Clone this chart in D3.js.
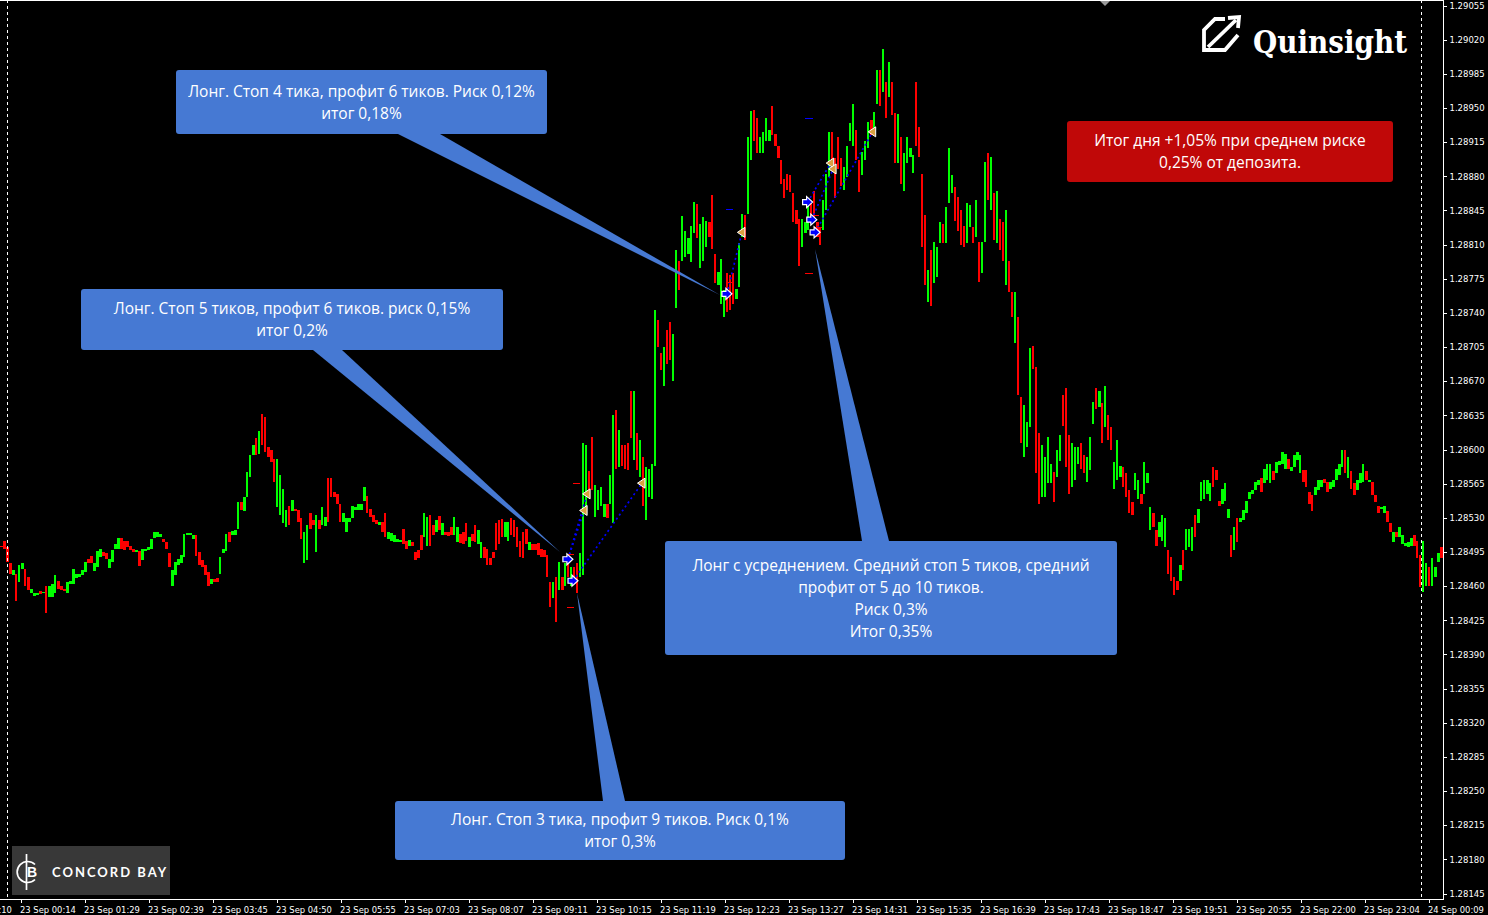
<!DOCTYPE html>
<html><head><meta charset="utf-8">
<script src="https://cdn.jsdelivr.net/npm/d3@7/dist/d3.min.js"></script>
<style>html,body{margin:0;padding:0;background:#000;overflow:hidden}svg{display:block}</style>
</head><body><svg id="c" width="1488" height="915"></svg>
<script>
// Prices are stored in points above 1.28000. Each group holds every third M1 bar.
const highsA=[501,506,500,483,476,472,481,483,477,469,457,452,452,454,453,460,460,462,471,465,460,457,464,465,477,472,472,476,484,487,490,483,495,498,494,493,487,496,503,509,509,506,506,501,498,496,495,498,498,500,508,515,515,513,508,505,493,476,484,487,491,513,514,514,512,512,494,486,481,474,467,467,468,489,498,513,515,516,517,546,546,551,576,594,604,611,618,636,633,602,599,590,590,573,559,537,542,548,539,537,529,515,522,534,527,532,527,541,530,570,570,556,554,544,534,529,529,542,541,544,544];
const lowsA=[500,498,484,472,471,444,464,477,460,455,452,449,450,451,452,432,448,448,452,457,455,454,452,462,462,468,469,471,474,483,483,475,479,489,490,487,478,484,498,498,498,496,500,496,494,494,480,486,495,496,498,509,510,510,505,498,479,460,471,481,483,489,512,512,508,490,481,479,471,460,462,464,464,472,493,495,505,512,512,518,537,536,551,571,594,594,595,604,597,592,587,566,541,532,524,520,522,536,536,525,508,483,486,518,522,494,518,522,521,525,551,551,544,525,525,515,525,529,537,538,538];
const dirsA="rrrrgrggrrgggrgrgggrrrgggggggrrgggrrggggrrrrrgrgggggggrrrggggggggrrrrrgrrgggrgggrggggrgrrrrrggggrgrrrggrrgrggrrrrrggggggg";
const highsB=[561,552,539,532,527,525,525,534,515,514,512,508,507,518,506,507,505,494,496,512,534,530,532,522,527,531,524,515,515,520,530,520,513,515,524,510,513,522,517,505,500,498,488,494,524,527,528,525,525,529,527,520,506,515,518,505,503,503,504,498,496,491,464,464,469,484,469,483,491,479,479,483,493,606,604,577,612,563,558,561,544,544,573,635,640,619,604,604,606,659,659,616,609,592,582,580,585];
const lowsB=[547,534,530,525,523,522,515,510,508,506,505,505,505,503,498,501,501,486,488,496,510,501,501,512,515,517,512,512,511,512,512,505,504,503,506,500,506,505,503,488,488,481,481,488,496,503,510,510,506,512,510,500,489,488,503,496,496,496,491,489,489,469,438,447,423,455,455,460,469,460,462,452,469,471,534,551,558,530,537,542,530,529,544,524,580,582,583,580,578,611,589,578,571,542,527,551,549];
const dirsB="grrrrgrrgggggrrgrrrrggrrgrgrrrggrrrgrrggrrrrrrrggrrrrrrgrrrrrrrgrgrgrgrrgggrrggggrggrgrrrrgrgrg";
const highsC=[742,732,698,705,722,730,718,804,793,839,823,816,829,853,851,831,838,834,833,860,800,781,795,763,780,778,780,764,811,841,840,920,946,947,939,920,925,939,927,952,923,911,896,877,882,881,862,845,836,836,833,850,853,864,833,826,855,882,925,925,898,920,898,889,910,934,954,927,896,904,916,935,937,945];
const lowsC=[583,705,681,665,687,691,670,744,763,793,797,800,792,821,816,785,793,807,817,805,770,768,749,735,740,742,749,754,766,817,814,841,896,916,903,903,903,916,916,922,910,898,872,857,865,863,833,831,788,807,821,824,836,833,817,809,824,845,879,886,857,887,870,865,879,916,910,896,863,881,896,908,922,925];
const dirsC="grrgrrggrgggggrgggrrrgggrrrgggrggrrggggrrrrrrrrrrgggrrrrgggrrrrggggrrgggrg";
const highsD=[988,988,1010,976,997,976,944,943,920,903,920,908,901,976,930,882,840,783,804,812,807,833,831,848,908,881,869,858,845,829,852,850,828,855,812,812,894,903,899,862,864,836,833,845,793,761,761];
const lowsD=[954,952,966,939,961,942,893,893,872,864,893,899,883,910,899,807,768,751,747,770,776,811,811,811,852,862,834,823,809,807,811,828,811,817,771,780,812,855,845,814,811,804,793,768,761,735,709];
const dirsD="grgrgrrgrggggrrrrgrgggrgggrrrrggrgrggrgrgrrgrrg";
const highsE=[735,653,645,628,703,706,684,616,604,592,612,585,576,599,614,655,662,614,606,602,602,606,594,592,612,648,662,659,647,665,635,623,587,609,583,582,575,558,546,575,568,554,587,575,541,534,517,525,532,529,496,489,469,465,481,496,518,518,520,532,539,566,568,568,565,582,578,547,559,565,539,512];
const lowsE=[655,606,592,602,623,682,575,544,551,551,565,565,546,571,588,624,582,554,561,568,585,580,575,566,578,626,641,643,606,623,609,599,559,568,571,561,551,534,532,558,549,544,554,565,517,520,501,510,506,500,472,465,450,455,465,476,496,500,495,510,524,547,549,554,547,561,568,542,544,547,529,489];
const dirsE="rrgggrrrggggrggrrrgggrrgggrgrgrrgggrrrrggrgggrrgggrrrrgrgggrgggggrrrgggrrr";
const highsF=[520,529,529,537,547,556,558,566,568,570,580,585,585,577,587,588,597,595,590,582,594,597,594,578,578,556,553,561,568,568,569,566,566,568,580,585,599,599,592,577,565,568,575,585,577,568,566,553,542,541,542,536,524,515,515,520,512,504,505,509,512,506,491,506,483,479,488,479,493,500];
const lowsF=[496,505,525,527,534,549,554,558,563,556,565,568,565,568,575,584,585,580,580,577,582,589,575,566,561,544,536,553,558,561,565,556,559,561,568,573,582,575,570,559,553,558,565,566,568,566,553,546,534,539,534,525,515,505,510,510,503,501,500,501,501,488,459,453,460,460,460,469,484,488];
const dirsF="grgggggggrgggrggggrggggrrrrgggrrgggggrgrrgggrgrrrggrrgrgggggrrrggrgggr";
// first bar index of each group
const groupStarts=[0,121,218,292,339,411];
const groupHighs=[highsA,highsB,highsC,highsD,highsE,highsF];
const groupLows=[lowsA,lowsB,lowsC,lowsD,lowsE,lowsF];
const groupDirs=[dirsA,dirsB,dirsC,dirsD,dirsE,dirsF];

const priceTicks=[1.29055,1.2902,1.28985,1.2895,1.28915,1.2888,1.28845,1.2881,1.28775,1.2874,1.28705,1.2867,1.28635,1.286,1.28565,1.2853,1.28495,1.2846,1.28425,1.2839,1.28355,1.2832,1.28285,1.2825,1.28215,1.2818,1.28145];
const timeLabels=["22 Sep 23:10","23 Sep 00:14","23 Sep 01:29","23 Sep 02:39","23 Sep 03:45","23 Sep 04:50","23 Sep 05:55","23 Sep 07:03","23 Sep 08:07","23 Sep 09:11","23 Sep 10:15","23 Sep 11:19","23 Sep 12:23","23 Sep 13:27","23 Sep 14:31","23 Sep 15:35","23 Sep 16:39","23 Sep 17:43","23 Sep 18:47","23 Sep 19:51","23 Sep 20:55","23 Sep 22:00","23 Sep 23:04","24 Sep 00:09"];
// trades: bar index, price in points
const entryBars=[189.3,191,242.3,269.2,270.6,271.7];
const entryPrices=[487,465,759,853,835,822];
const exitBars=[194.7,214,247.3,276.9,277.7,290.9,195.7];
const exitPrices=[537,565,822,893,887,925,554];
const tradeEntry=[0,1,2,3,4,5,0];
const tradeExit=[0,1,2,3,4,5,6];
const levelBars=[190,192,190,243,243,269.5,269.5,271.5,272.7];
const levelPrices=[438,565,492,845,771,939,780,839,827];
const levelColors=["#f00","#f00","#f00","#00f","#f00","#00f","#f00","#f00","#f00"];

const callouts=[
 {x:176,y:70,w:371,h:64,fill:"#4679d3",tip:[720,295],base:[398,440,134],lines:["Лонг. Стоп 4 тика, профит 6 тиков. Риск 0,12%","итог 0,18%"]},
 {x:81,y:289,w:422,h:61,fill:"#4679d3",tip:[560,552],base:[313,342,350],lines:["Лонг. Стоп 5 тиков, профит 6 тиков. риск 0,15%","итог 0,2%"]},
 {x:395,y:801,w:450,h:59,fill:"#4679d3",tip:[577,593],base:[603,625,801],lines:["Лонг. Стоп 3 тика, профит 9 тиков. Риск 0,1%","итог 0,3%"]},
 {x:665,y:541,w:452,h:114,fill:"#4679d3",tip:[815,249],base:[862,889,541],lines:["Лонг с усреднением. Средний стоп 5 тиков, средний","профит от 5 до 10 тиков.","Риск 0,3%","Итог 0,35%"]},
 {x:1067,y:121,w:326,h:61,fill:"#c00808",lines:["Итог дня +1,05% при среднем риске","0,25% от депозита."]}
];

const svg=d3.select("#c");
svg.append("rect").attr("width",1488).attr("height",915).attr("fill","#000");
const x=d3.scaleLinear().domain([0,480]).range([0,1440]);
const y=d3.scaleLinear().domain([1.28145,1.29055]).range([893,5]);
const pt=p=>1.28+p/1e5;
const tickX=d3.scaleLinear().domain([1,23]).range([21,1429]);

const bars=[];
groupStarts.forEach((s,g)=>groupHighs[g].forEach((h,i)=>{
  bars.push({bar:s+i,h,l:groupLows[g][i],d:groupDirs[g].charAt(i)||"g"});
}));

svg.append("g").selectAll("rect").data(bars).join("rect")
  .attr("shape-rendering","crispEdges")
  .attr("x",d=>x(d.bar))
  .attr("width",d=>(y(pt(d.l))-y(pt(d.h)))<16?3:2)
  .attr("y",d=>y(pt(d.h))).attr("height",d=>Math.max(1,y(pt(d.l))-y(pt(d.h))))
  .attr("fill",d=>d.d==="g"?"#00ff00":"#ff0000");

// dashed frame markers
const dashG=svg.append("g");
[7.5,1421.5].forEach(px=>dashG.append("line").attr("x1",px).attr("x2",px).attr("y1",0).attr("y2",899)
  .attr("stroke","#fff").attr("stroke-dasharray","3,3"));

// trade lines
svg.append("g").selectAll("line").data(tradeEntry).join("line")
  .attr("x1",(e)=>x(entryBars[e])).attr("y1",e=>y(pt(entryPrices[e])))
  .attr("x2",(e,i)=>x(exitBars[tradeExit[i]])).attr("y2",(e,i)=>y(pt(exitPrices[tradeExit[i]])))
  .attr("stroke","#0000ff").attr("stroke-width",1.7).attr("stroke-dasharray","2,3");

// stop / target levels
svg.append("g").selectAll("line").data(levelBars).join("line")
  .attr("shape-rendering","crispEdges")
  .attr("x1",d=>x(d)-3.5).attr("x2",d=>x(d)+4)
  .attr("y1",(d,i)=>y(pt(levelPrices[i]))).attr("y2",(d,i)=>y(pt(levelPrices[i])))
  .attr("stroke",(d,i)=>levelColors[i]);

// callouts
const cg=svg.append("g").style("font-family","'Open Sans','Noto Sans',sans-serif").style("font-size","15.5px");
callouts.forEach(c=>{
  if(c.tip) cg.append("polygon").attr("points",`${c.base[0]},${c.base[2]} ${c.base[1]},${c.base[2]} ${c.tip[0]},${c.tip[1]}`).attr("fill",c.fill);
  cg.append("rect").attr("x",c.x).attr("y",c.y).attr("width",c.w).attr("height",c.h).attr("rx",3).attr("fill",c.fill);
  const cy=c.y+c.h/2, lh=22;
  c.lines.forEach((t,i)=>cg.append("text").attr("x",c.x+c.w/2).attr("y",cy+(i-(c.lines.length-1)/2)*lh)
    .attr("dy","0.38em").attr("text-anchor","middle").attr("fill","#fff").text(t));
});

// trade markers
const arrow=d3.path();
arrow.moveTo(-5,-2.5);arrow.lineTo(-1,-2.5);arrow.lineTo(-1,-5.5);arrow.lineTo(5,0);arrow.lineTo(-1,5.5);arrow.lineTo(-1,2.5);arrow.lineTo(-5,2.5);arrow.closePath();
svg.append("g").selectAll("path").data(entryBars).join("path")
  .attr("d",arrow.toString())
  .attr("transform",(d,i)=>`translate(${x(d)},${y(pt(entryPrices[i]))})`)
  .attr("fill","#0000ff").attr("stroke","#fff").attr("stroke-width",1.2);
const tri=d3.path();
tri.moveTo(-4.5,0);tri.lineTo(3,-5);tri.lineTo(3,5);tri.closePath();
svg.append("g").selectAll("path").data(exitBars).join("path")
  .attr("d",tri.toString())
  .attr("transform",(d,i)=>`translate(${x(d)},${y(pt(exitPrices[i]))})`)
  .attr("fill","#daa040").attr("stroke","#fff").attr("stroke-width",1);

// axes
const axisFont="'DejaVu Sans',sans-serif";
const yAxis=d3.axisRight(y).tickValues(priceTicks).tickFormat(d3.format(".5f")).tickSize(3).tickPadding(3).tickSizeOuter(0);
const ga=svg.append("g").attr("transform","translate(1443.5,0.5)").call(yAxis);
ga.select(".domain").remove();
ga.selectAll("line").attr("stroke","#fff").attr("shape-rendering","crispEdges");
ga.selectAll("text").attr("fill","#fff").style("font-family",axisFont).style("font-size","8.5px");
const tx=svg.append("g");
timeLabels.forEach((t,i)=>{
  const px=tickX(i);
  tx.append("line").attr("x1",px+.5).attr("x2",px+.5).attr("y1",899).attr("y2",903).attr("stroke","#fff").attr("shape-rendering","crispEdges");
  tx.append("text").attr("x",px-1).attr("y",912.5).attr("fill","#fff").style("font-family",axisFont).style("font-size","8.4px").text(t);
});
const frame=svg.append("g").attr("stroke","#fff").attr("shape-rendering","crispEdges");
frame.append("line").attr("x1",1443.5).attr("x2",1443.5).attr("y1",0).attr("y2",899.5);
frame.append("line").attr("x1",0).attr("x2",1443.5).attr("y1",899.5).attr("y2",899.5);
frame.append("line").attr("x1",0).attr("x2",1443.5).attr("y1",.5).attr("y2",.5);
svg.append("polygon").attr("points","1100,1 1110,1 1105,6").attr("fill","#9a9a9a");

// Quinsight logo
const q=svg.append("g").attr("fill","none").attr("stroke","#fff").attr("stroke-width",3.8);
q.append("path").attr("d","M1225,19 L1215,19 L1204,30 L1204,50 L1225,50 L1238,35");
q.append("path").attr("d","M1208,47 L1236,20");
q.append("path").attr("d","M1228,18 L1239,17 L1238,28");
svg.append("text").attr("x",1253).attr("y",53).attr("fill","#fff")
  .style("font-family","'DejaVu Serif',serif").style("font-weight","700").style("font-size","31px").attr("textLength",154).attr("lengthAdjust","spacingAndGlyphs").text("Quinsight");

// Concord Bay logo
svg.append("rect").attr("x",12).attr("y",846).attr("width",158).attr("height",49).attr("fill","#383838");
const cb=svg.append("g").attr("fill","none").attr("stroke","#fff").attr("stroke-width",1.7);
cb.append("path").attr("d","M35,864.5 A10.5,10.5 0 1 0 35,879.5");
cb.append("line").attr("x1",26.5).attr("x2",26.5).attr("y1",854).attr("y2",890);
svg.append("text").attr("x",27).attr("y",877).attr("fill","#fff").style("font-family","'Liberation Sans',sans-serif").style("font-weight","700").style("font-size","14px").text("B");
svg.append("text").attr("x",52).attr("y",877).attr("fill","#fff")
  .style("font-family","'Lato','Open Sans',sans-serif").style("font-weight","700").style("font-size","13px").style("letter-spacing","2px").text("CONCORD BAY");
</script></body></html>
